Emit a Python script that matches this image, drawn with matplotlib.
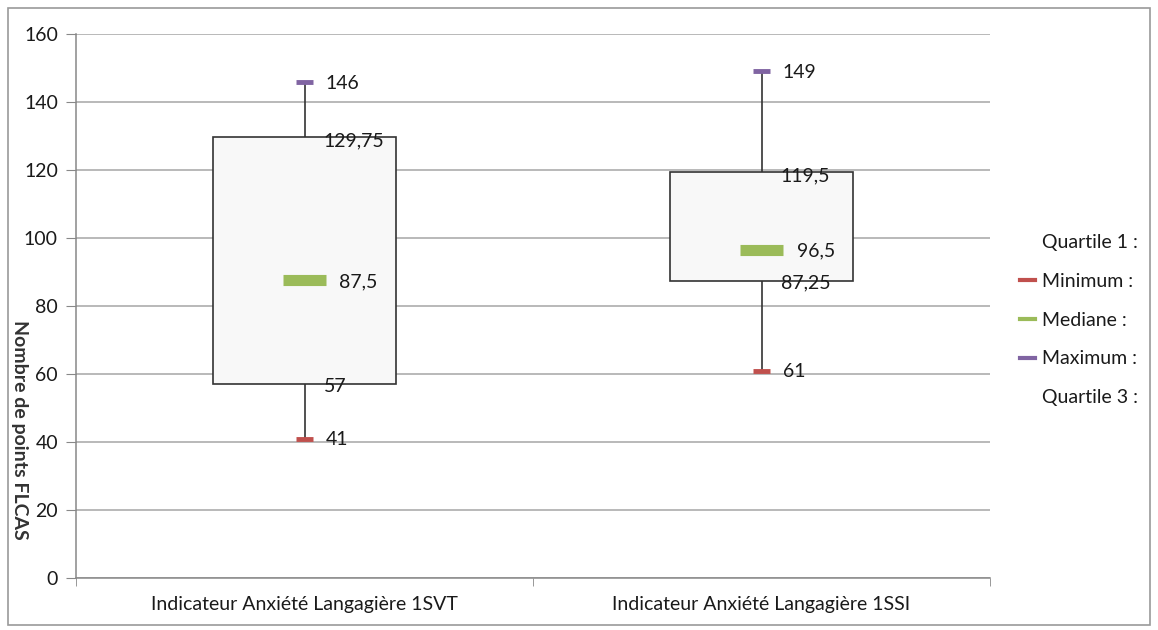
import matplotlib
matplotlib.use("Agg")
import matplotlib.pyplot as plt
from matplotlib.lines import Line2D
from matplotlib.patches import Rectangle

categories = ["Indicateur Anxiété Langagière 1SVT", "Indicateur Anxiété Langagière 1SSI"]
minimum = [41, 61]
quartile1 = [57, 87.25]
median = [87.5, 96.5]
quartile3 = [129.75, 119.5]
maximum = [146, 149]
yticks = [0, 20, 40, 60, 80, 100, 120, 140, 160]

def fr(v):
    s = f"{v:g}"
    return s.replace(".", ",")

plt.rcParams['font.family'] = ['Lato', 'DejaVu Sans']
FS = 14
TXT = '#1a1a1a'

fig = plt.figure(figsize=(11.58, 6.30), dpi=100)
ax = fig.add_axes([76/1158, 1 - 578/630, (990-76)/1158, (578-34)/630])

red = '#C0504D'
green = '#9BBB59'
purple = '#8064A2'

box_w = 0.40
for i, cat in enumerate(categories):
    ax.plot([i, i], [minimum[i], quartile1[i]], color='#333333', lw=1.2, zorder=3)
    ax.plot([i, i], [quartile3[i], maximum[i]], color='#333333', lw=1.2, zorder=3)
    ax.add_patch(Rectangle((i - box_w/2, quartile1[i]), box_w, quartile3[i] - quartile1[i],
                           facecolor='#F8F8F8', edgecolor='#333333', lw=1.2, zorder=4))
    ax.plot([i - 0.018, i + 0.018], [minimum[i]] * 2, color=red, lw=3.5, solid_capstyle='butt', zorder=5)
    ax.plot([i - 0.018, i + 0.018], [maximum[i]] * 2, color=purple, lw=3.5, solid_capstyle='butt', zorder=5)
    ax.plot([i - 0.048, i + 0.048], [median[i]] * 2, color=green, lw=8, solid_capstyle='butt', zorder=5)
    for v, dx, dy in [(maximum[i], 21, -1.5), (quartile3[i], 19, -4), (median[i], 35, -1),
                      (quartile1[i], 19, -2), (minimum[i], 21, -1)]:
        ax.annotate(fr(v), (i, v), xytext=(dx, dy), textcoords='offset pixels',
                    ha='left', va='center', fontsize=FS, color=TXT, zorder=6)

ax.set_xlim(-0.5, 1.5)
ax.set_ylim(0, 160)
ax.set_yticks(yticks)
ax.set_xticks([0, 1])
ax.set_xticklabels(categories)
ax.set_xticks([-0.5, 0.5, 1.5], minor=True)
ax.tick_params(axis='x', which='major', length=0, pad=13, labelsize=FS, labelcolor=TXT)
ax.tick_params(axis='x', which='minor', length=6, color='#888888')
ax.tick_params(axis='y', length=7, color='#888888', labelsize=FS, labelcolor=TXT, pad=6)
ax.grid(axis='y', color='#A6A6A6', lw=1.1)
ax.set_axisbelow(True)
for s in ['top', 'right']:
    ax.spines[s].set_visible(False)
for s in ['left', 'bottom']:
    ax.spines[s].set_color('#888888')
    ax.spines[s].set_linewidth(1.1)

fig.text(19/1158, 1 - 430/630, "Nombre de points FLCAS", rotation=-90, ha='center', va='center',
         fontsize=FS, color='#333333', fontweight='bold')

handles = [Line2D([], [], color='none'),
           Line2D([], [], color=red, lw=3),
           Line2D([], [], color=green, lw=3),
           Line2D([], [], color=purple, lw=3),
           Line2D([], [], color='none')]
labels = ["Quartile 1 :", "Minimum :", "Mediane :", "Maximum :", "Quartile 3 :"]
fig.legend(handles, labels, loc='center left', bbox_to_anchor=(1012/1158, 1 - 320/630),
           frameon=False, fontsize=FS, handlelength=0.8, handletextpad=0.35,
           labelspacing=1.13, labelcolor=TXT, borderaxespad=0)

fig.add_artist(Rectangle((8/1158, 5/630), 1142/1158, 617/630, transform=fig.transFigure,
                         fill=False, edgecolor='#9a9a9a', lw=1.2))

fig.savefig("out.png", dpi=100, facecolor='white')
